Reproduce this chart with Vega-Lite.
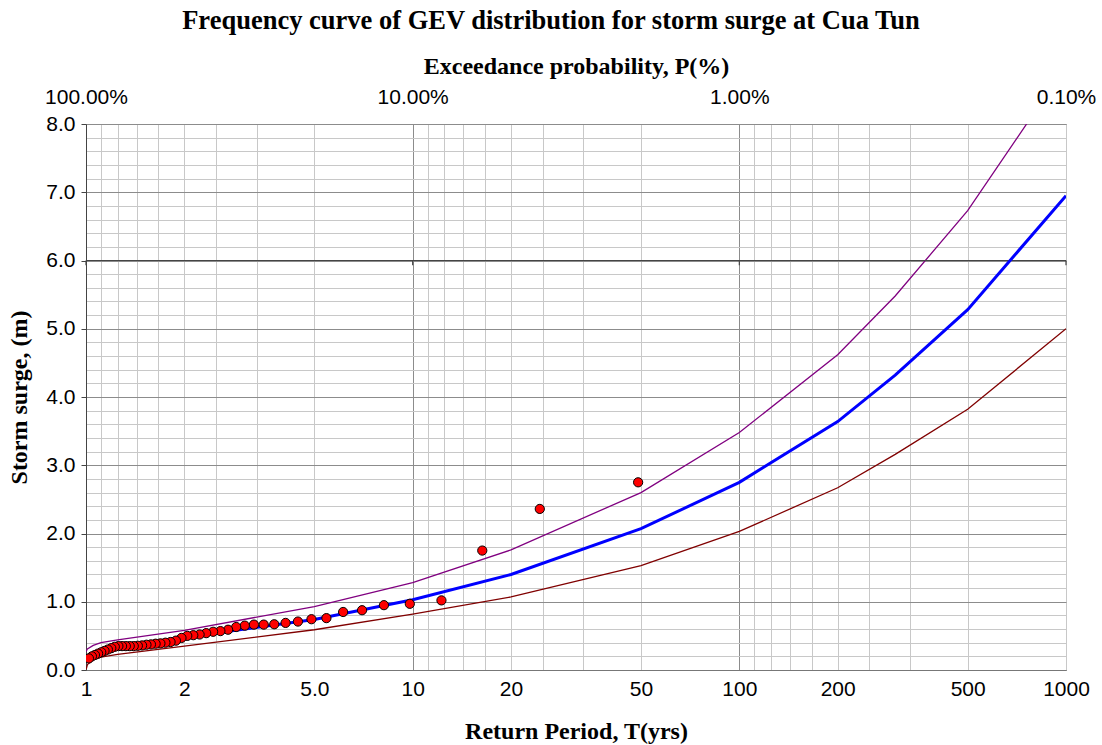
{
  "$schema": "https://vega.github.io/schema/vega-lite/v6.json",
  "autosize": "none",
  "width": 980,
  "height": 546,
  "padding": {"left": 86, "top": 124, "right": 36, "bottom": 75},
  "background": "white",
  "title": {
    "text": "Frequency curve of GEV distribution for storm surge at Cua Tun",
    "font": "Liberation Serif",
    "fontSize": 26.5,
    "fontWeight": "bold",
    "color": "black",
    "anchor": "middle",
    "frame": "group",
    "dx": -25,
    "offset": 20
  },
  "config": {
    "view": {"stroke": "#888888", "strokeWidth": 1},
    "axis": {
      "labelFont": "Liberation Sans",
      "labelFontSize": 21,
      "labelColor": "black",
      "labelFlush": false,
      "titleFont": "Liberation Serif",
      "titleFontWeight": "bold",
      "titleFontSize": 24,
      "titleColor": "black"
    }
  },
  "datasets": {
    "observed": [
      {"m": 1, "T": 49, "surge": 2.75},
      {"m": 2, "T": 24.5, "surge": 2.36},
      {"m": 3, "T": 16.3333, "surge": 1.75},
      {"m": 4, "T": 12.25, "surge": 1.02},
      {"m": 5, "T": 9.8, "surge": 0.97},
      {"m": 6, "T": 8.1667, "surge": 0.95},
      {"m": 7, "T": 7, "surge": 0.876},
      {"m": 8, "T": 6.125, "surge": 0.85},
      {"m": 9, "T": 5.4444, "surge": 0.76},
      {"m": 10, "T": 4.9, "surge": 0.744},
      {"m": 11, "T": 4.4545, "surge": 0.71},
      {"m": 12, "T": 4.0833, "surge": 0.69},
      {"m": 13, "T": 3.7692, "surge": 0.67},
      {"m": 14, "T": 3.5, "surge": 0.665},
      {"m": 15, "T": 3.2667, "surge": 0.665},
      {"m": 16, "T": 3.0625, "surge": 0.65},
      {"m": 17, "T": 2.8824, "surge": 0.63},
      {"m": 18, "T": 2.7222, "surge": 0.59},
      {"m": 19, "T": 2.5789, "surge": 0.57},
      {"m": 20, "T": 2.45, "surge": 0.56},
      {"m": 21, "T": 2.3333, "surge": 0.54},
      {"m": 22, "T": 2.2273, "surge": 0.52},
      {"m": 23, "T": 2.1304, "surge": 0.51},
      {"m": 24, "T": 2.0417, "surge": 0.5},
      {"m": 25, "T": 1.96, "surge": 0.47},
      {"m": 26, "T": 1.8846, "surge": 0.43},
      {"m": 27, "T": 1.8148, "surge": 0.41},
      {"m": 28, "T": 1.75, "surge": 0.4},
      {"m": 29, "T": 1.6897, "surge": 0.39},
      {"m": 30, "T": 1.6333, "surge": 0.385},
      {"m": 31, "T": 1.5806, "surge": 0.375},
      {"m": 32, "T": 1.5313, "surge": 0.37},
      {"m": 33, "T": 1.4848, "surge": 0.36},
      {"m": 34, "T": 1.4412, "surge": 0.355},
      {"m": 35, "T": 1.4, "surge": 0.35},
      {"m": 36, "T": 1.3611, "surge": 0.35},
      {"m": 37, "T": 1.3243, "surge": 0.35},
      {"m": 38, "T": 1.2895, "surge": 0.35},
      {"m": 39, "T": 1.2564, "surge": 0.35},
      {"m": 40, "T": 1.225, "surge": 0.34},
      {"m": 41, "T": 1.1951, "surge": 0.32},
      {"m": 42, "T": 1.1667, "surge": 0.3},
      {"m": 43, "T": 1.1395, "surge": 0.28},
      {"m": 44, "T": 1.1136, "surge": 0.26},
      {"m": 45, "T": 1.0889, "surge": 0.24},
      {"m": 46, "T": 1.0652, "surge": 0.22},
      {"m": 47, "T": 1.0426, "surge": 0.2},
      {"m": 48, "T": 1.0208, "surge": 0.17}
    ],
    "curves": [
      {"series": "upper", "T": 1.001, "value": 0.27},
      {"series": "upper", "T": 1.0101, "value": 0.31},
      {"series": "upper", "T": 1.0526, "value": 0.36},
      {"series": "upper", "T": 1.1111, "value": 0.4},
      {"series": "upper", "T": 1.25, "value": 0.44},
      {"series": "upper", "T": 2, "value": 0.58},
      {"series": "upper", "T": 5, "value": 0.93},
      {"series": "upper", "T": 10, "value": 1.28},
      {"series": "upper", "T": 20, "value": 1.76},
      {"series": "upper", "T": 50, "value": 2.6},
      {"series": "upper", "T": 100, "value": 3.48},
      {"series": "upper", "T": 200, "value": 4.62},
      {"series": "upper", "T": 300, "value": 5.48},
      {"series": "upper", "T": 500, "value": 6.73},
      {"series": "upper", "T": 1000, "value": 8.85},
      {"series": "lower", "T": 1.001, "value": 0.01},
      {"series": "lower", "T": 1.0101, "value": 0.08},
      {"series": "lower", "T": 1.0526, "value": 0.15},
      {"series": "lower", "T": 1.1111, "value": 0.19},
      {"series": "lower", "T": 1.25, "value": 0.23},
      {"series": "lower", "T": 2, "value": 0.35},
      {"series": "lower", "T": 5, "value": 0.59},
      {"series": "lower", "T": 10, "value": 0.82},
      {"series": "lower", "T": 20, "value": 1.07},
      {"series": "lower", "T": 50, "value": 1.53},
      {"series": "lower", "T": 100, "value": 2.03},
      {"series": "lower", "T": 200, "value": 2.67},
      {"series": "lower", "T": 300, "value": 3.16},
      {"series": "lower", "T": 500, "value": 3.82},
      {"series": "lower", "T": 1000, "value": 5.0},
      {"series": "fitted", "T": 1.001, "value": 0.12},
      {"series": "fitted", "T": 1.0101, "value": 0.16},
      {"series": "fitted", "T": 1.0526, "value": 0.22},
      {"series": "fitted", "T": 1.1111, "value": 0.27},
      {"series": "fitted", "T": 1.25, "value": 0.33},
      {"series": "fitted", "T": 2, "value": 0.48},
      {"series": "fitted", "T": 5, "value": 0.74},
      {"series": "fitted", "T": 10, "value": 1.03},
      {"series": "fitted", "T": 20, "value": 1.4},
      {"series": "fitted", "T": 50, "value": 2.07},
      {"series": "fitted", "T": 100, "value": 2.75},
      {"series": "fitted", "T": 200, "value": 3.64},
      {"series": "fitted", "T": 300, "value": 4.32},
      {"series": "fitted", "T": 500, "value": 5.28},
      {"series": "fitted", "T": 1000, "value": 6.95}
    ],
    "probAxisLine": [{"crossing": 6}],
    "probAxisTicks": [
      {"T": 1}, {"T": 10}, {"T": 100}, {"T": 1000}
    ]
  },
  "resolve": {"axis": {"x": "independent", "y": "independent"}},
  "layer": [
    {
      "data": {"name": "curves"},
      "transform": [{"filter": "datum.series != 'fitted'"}],
      "mark": {"type": "line", "clip": true, "strokeWidth": 1.3},
      "encoding": {
        "x": {
          "field": "T",
          "type": "quantitative",
          "scale": {"type": "log", "domain": [1, 1000], "nice": false},
          "axis": {
            "orient": "bottom",
            "title": "Return Period, T(yrs)",
            "titlePadding": 20,
            "values": [1, 1.1111, 1.25, 1.4286, 1.6667, 2, 2.5, 3.3333, 5, 10, 11.111, 12.5, 14.286, 16.667, 20, 25, 33.333, 50, 100, 111.11, 125, 142.86, 166.67, 200, 250, 333.33, 500, 1000],
            "labelExpr": "datum.value == 5 ? '5.0' : (indexof([1, 2, 10, 20, 50, 100, 200, 500, 1000], datum.value) >= 0 ? '' + datum.value : '')",
            "labelOverlap": false,
            "labelPadding": 8,
            "ticks": false,
            "domainColor": "#777777",
            "grid": true,
            "gridColor": {
              "condition": {"test": "datum.value == 10 || datum.value == 100", "value": "#8c8c8c"},
              "value": "#c8c8c8"
            },
            "gridWidth": 1
          }
        },
        "y": {
          "field": "value",
          "type": "quantitative",
          "scale": {"domain": [0, 8], "nice": false},
          "axis": {
            "orient": "left",
            "title": "Storm surge, (m)",
            "titlePadding": 14,
            "values": [0, 0.2, 0.4, 0.6, 0.8, 1, 1.2, 1.4, 1.6, 1.8, 2, 2.2, 2.4, 2.6, 2.8, 3, 3.2, 3.4, 3.6, 3.8, 4, 4.2, 4.4, 4.6, 4.8, 5, 5.2, 5.4, 5.6, 5.8, 6, 6.2, 6.4, 6.6, 6.8, 7, 7.2, 7.4, 7.6, 7.8, 8],
            "labelExpr": "abs(datum.value - round(datum.value)) < 0.01 ? format(datum.value, '.1f') : ''",
            "labelOverlap": false,
            "labelPadding": 6,
            "tickSize": 5,
            "tickColor": {
              "condition": {"test": "abs(datum.value - round(datum.value)) < 0.01", "value": "#444444"},
              "value": "rgba(0,0,0,0)"
            },
            "domainColor": "#444444",
            "grid": true,
            "gridColor": {
              "condition": {"test": "abs(datum.value - round(datum.value)) < 0.01", "value": "#8c8c8c"},
              "value": "#c8c8c8"
            }
          }
        },
        "color": {
          "field": "series",
          "type": "nominal",
          "scale": {"domain": ["upper", "lower", "fitted"], "range": ["#800080", "#800000", "#0000ff"]},
          "legend": null
        },
        "order": {"field": "T", "type": "quantitative"}
      }
    },
    {
      "data": {"name": "probAxisLine"},
      "mark": {"type": "rule", "color": "#444444", "strokeWidth": 1.2},
      "encoding": {
        "y": {"field": "crossing", "type": "quantitative", "axis": null}
      }
    },
    {
      "data": {"name": "probAxisTicks"},
      "mark": {"type": "rule", "color": "#444444", "strokeWidth": 1.2},
      "encoding": {
        "x": {"field": "T", "type": "quantitative", "axis": null},
        "y": {"datum": 6, "type": "quantitative", "axis": null},
        "y2": {"datum": 5.93}
      }
    },
    {
      "data": {"name": "curves"},
      "transform": [{"filter": "datum.series == 'fitted'"}],
      "mark": {"type": "line", "clip": true, "strokeWidth": 3},
      "encoding": {
        "x": {"field": "T", "type": "quantitative", "axis": null},
        "y": {"field": "value", "type": "quantitative", "axis": null},
        "color": {"field": "series", "type": "nominal", "legend": null},
        "order": {"field": "T", "type": "quantitative"}
      }
    },
    {
      "data": {"name": "observed"},
      "mark": {"type": "point", "shape": "circle", "filled": true, "fill": "#ff0000", "stroke": "black", "strokeWidth": 1, "opacity": 1, "size": 85, "clip": true},
      "encoding": {
        "x": {
          "field": "T",
          "type": "quantitative",
          "axis": {
            "orient": "top",
            "title": "Exceedance probability, P(%)",
            "titlePadding": 8,
            "values": [1, 10, 100, 1000],
            "labelExpr": "datum.value == 1 ? '100.00%' : (datum.value == 10 ? '10.00%' : (datum.value == 100 ? '1.00%' : '0.10%'))",
            "labelOverlap": false,
            "labelPadding": 17,
            "ticks": false,
            "domain": false,
            "grid": false
          }
        },
        "y": {"field": "surge", "type": "quantitative", "axis": null}
      }
    }
  ]
}
